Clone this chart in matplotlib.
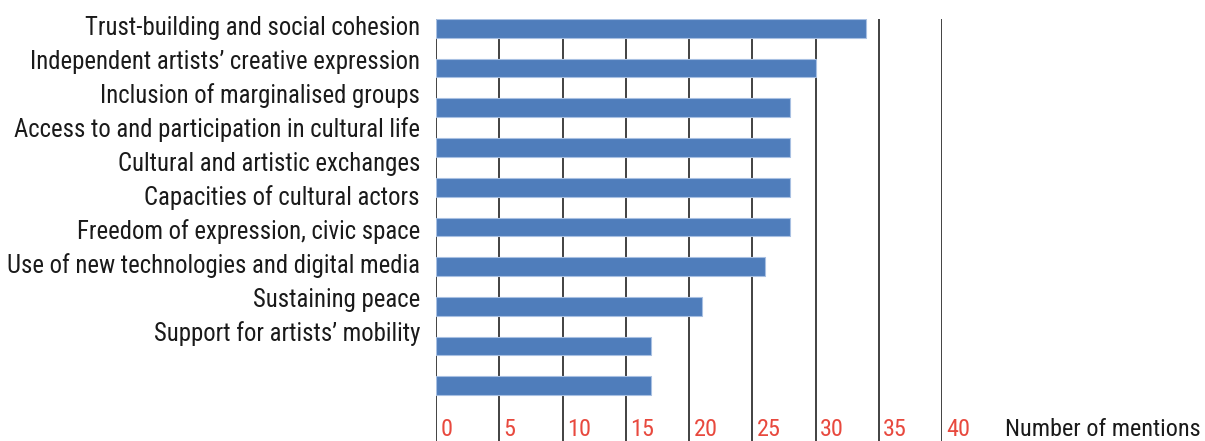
import matplotlib
matplotlib.use('Agg')
import matplotlib.pyplot as plt
from matplotlib import font_manager

# data
categories = [
    "Trust-building and social cohesion",
    "Independent artists\u2019 creative expression",
    "Inclusion of marginalised groups",
    "Access to and participation in cultural life",
    "Cultural and artistic exchanges",
    "Capacities of cultural actors",
    "Freedom of expression, civic space",
    "Use of new technologies and digital media",
    "Sustaining peace",
    "Support for artists\u2019 mobility",
]
mentions = [34, 30, 28, 28, 28, 28, 26, 21, 17, 17]
xticks = [0, 5, 10, 15, 20, 25, 30, 35, 40]
xlabel = "Number of mentions"

# pick a narrow font if one is there
names = {f.name for f in font_manager.fontManager.ttflist}
font = 'DejaVu Sans'
for cand in ['Roboto Condensed', 'Liberation Sans Narrow', 'Open Sans Condensed', 'Roboto']:
    if cand in names:
        font = cand
        break
plt.rcParams['font.family'] = [font, 'DejaVu Sans']

W, H = 1205, 441
fig = plt.figure(figsize=(W / 100, H / 100), dpi=100)

# axes spans x=0..40 over pixels 436..942, top edge at y=19
ax = fig.add_axes([436 / W, 0, 506 / W, 1 - 19 / H])
ypos = list(range(len(mentions)))
bar_h = 0.47
ax.barh(ypos, mentions, height=bar_h, color='#4f7dbb', edgecolor='#a8c0e2',
        linewidth=0.8, zorder=3)
ax.set_xlim(0, 40)
ax.set_ylim((441 - 28) / 39.75, -bar_h / 2)
for s in ax.spines.values():
    s.set_visible(False)
ax.set_xticks([])
ax.set_yticks([])
for t in xticks:
    ax.axvline(t, color='#333333', lw=1.3, zorder=1)
    ax.text(t + 0.35, 0.001, str(t), color='#e8493e', fontsize=17.5,
            ha='left', va='bottom', transform=ax.get_xaxis_transform())
ax.text(1.1245, 0.001, xlabel, color='#1a1a1a', fontsize=17.5, ha='left',
        va='bottom', transform=ax.transAxes, clip_on=False)

# category labels sit on their own, tighter spacing than the bars
for i, c in enumerate(categories):
    yc = 28 + 34.0 * i
    fig.text(420 / W, 1 - yc / H, c, ha='right', va='center', fontsize=17.8,
             color='#1a1a1a')

fig.savefig('out.png', dpi=100)
